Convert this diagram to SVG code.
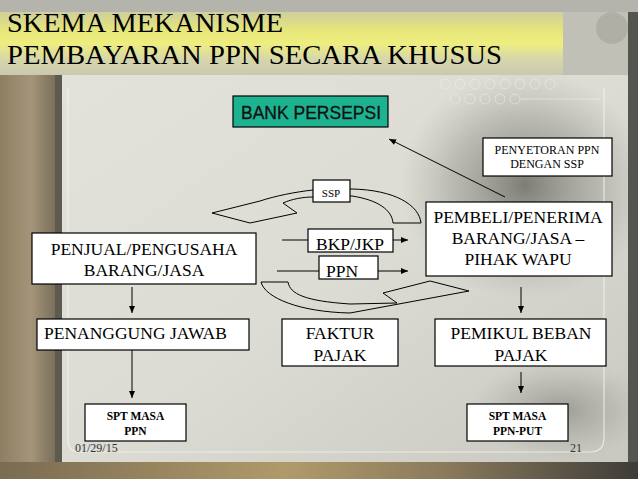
<svg xmlns="http://www.w3.org/2000/svg" width="638" height="479" viewBox="0 0 638 479">
<style>
.box{fill:#ffffff;stroke:#000000;stroke-width:1.2}
.ln{fill:none;stroke:#000000;stroke-width:1}
.t{font-family:"Liberation Serif","Times New Roman",serif;fill:#000000;text-anchor:middle}
.big{font-size:17.5px}
.sm{font-size:12px}
.spt{font-size:11.5px;font-weight:bold}
.title{font-family:"Liberation Serif","Times New Roman",serif;font-size:28px;fill:#000000}
.foot{font-family:"Liberation Serif","Times New Roman",serif;font-size:12px;fill:#333333}
</style>
<defs>
<marker id="ah" markerUnits="userSpaceOnUse" markerWidth="7" markerHeight="6" refX="7" refY="3" orient="auto">
<path d="M0,0 L7,3 L0,6 Z" fill="#000000"/>
</marker>
<linearGradient id="panel" x1="0" y1="0" x2="1" y2="1">
<stop offset="0" stop-color="#e2e2da"/>
<stop offset="0.5" stop-color="#dcdcd4"/>
<stop offset="1" stop-color="#c8c8c0"/>
</linearGradient>
<linearGradient id="titleband" x1="0" y1="0" x2="0" y2="1">
<stop offset="0" stop-color="#cfcf9c"/>
<stop offset="0.3" stop-color="#e6e67a"/>
<stop offset="0.5" stop-color="#eeee80"/>
<stop offset="0.75" stop-color="#d6d6aa"/>
<stop offset="1" stop-color="#c9c9b0"/>
</linearGradient>
<linearGradient id="leftstrip" x1="0" y1="0" x2="1" y2="0">
<stop offset="0" stop-color="#8e7f62"/>
<stop offset="0.5" stop-color="#a4957a"/>
<stop offset="1" stop-color="#6e6452"/>
</linearGradient>
<linearGradient id="bottom" x1="0" y1="0" x2="1" y2="0">
<stop offset="0" stop-color="#7a6c52"/>
<stop offset="0.45" stop-color="#b09a6a"/>
<stop offset="0.7" stop-color="#8a7a5c"/>
<stop offset="1" stop-color="#3e3c38"/>
</linearGradient>
<radialGradient id="dark" cx="0.5" cy="0.5" r="0.5">
<stop offset="0" stop-color="#666660" stop-opacity="0.8"/>
<stop offset="0.6" stop-color="#8a8a82" stop-opacity="0.4"/>
<stop offset="1" stop-color="#a0a098" stop-opacity="0"/>
</radialGradient>
</defs>

<g id="background">
<rect x="0" y="0" width="638" height="479" fill="#bdbdb5"/>
<rect x="0" y="75" width="62" height="404" fill="url(#leftstrip)"/>
<rect x="55" y="75" width="7" height="390" fill="#5e5a50"/>
<rect x="62" y="75" width="566" height="388" fill="url(#panel)"/>
<ellipse cx="525" cy="185" rx="125" ry="115" fill="url(#dark)"/>
<ellipse cx="560" cy="410" rx="90" ry="50" fill="url(#dark)" opacity="0.6"/>
<path d="M68,88 V440 Q68,452 80,452 H590 Q604,452 604,438 V88" fill="none" stroke="#f2f2ee" stroke-width="1.2" opacity="0.8"/>
<rect x="628" y="0" width="10" height="479" fill="#555550"/>
<rect x="0" y="462" width="638" height="17" fill="url(#bottom)"/>
<rect x="0" y="0" width="638" height="12" fill="#b4b4ac"/>
<rect x="0" y="12" width="563" height="63" fill="url(#titleband)"/>
<rect x="563" y="12" width="65" height="63" fill="#c0c0b6"/>
<circle cx="612" cy="28" r="16" fill="#a8a8a0" opacity="0.7"/>
<g fill="none" stroke="#f4f4f0" stroke-width="1" opacity="0.5">
<circle cx="455" cy="99" r="5"/><circle cx="470" cy="99" r="5"/><circle cx="485" cy="99" r="5"/><circle cx="500" cy="99" r="5"/><circle cx="515" cy="99" r="5"/>
<circle cx="445" cy="84" r="5"/><circle cx="460" cy="84" r="5"/><circle cx="475" cy="84" r="5"/><circle cx="490" cy="84" r="5"/><circle cx="505" cy="84" r="5"/><circle cx="520" cy="84" r="5"/><circle cx="535" cy="84" r="5"/><circle cx="550" cy="84" r="5"/>
<path d="M520,99 H600"/>
</g>
</g>

<g id="title">
<text class="title" x="7" y="32" textLength="276" lengthAdjust="spacingAndGlyphs">SKEMA MEKANISME</text>
<text class="title" x="7" y="64" textLength="495" lengthAdjust="spacingAndGlyphs">PEMBAYARAN PPN SECARA KHUSUS</text>
</g>

<g id="connectors">
<path class="ln" d="M505,197 L389,139" marker-end="url(#ah)"/>
<path class="ln" d="M282,240 H308"/>
<path class="ln" d="M393,240 H408" marker-end="url(#ah)"/>
<path class="ln" d="M277,271 H319"/>
<path class="ln" d="M378,271 H408" marker-end="url(#ah)"/>
<path class="ln" d="M132,287 V313" marker-end="url(#ah)"/>
<path class="ln" d="M132,350 V398" marker-end="url(#ah)"/>
<path class="ln" d="M521,287 V313" marker-end="url(#ah)"/>
<path class="ln" d="M521,372 V393" marker-end="url(#ah)"/>
<path id="curve-ssp" class="ln" d="M393,223 L421,223 C419,205 395,190 352,189 L313,190 C295,192 275,196 260,201 L212,213 L250,223 L297,213 L283,203 C292,199 303,197 313,197 L352,196 C378,200 392,210 393,223 Z"/>
<path id="curve-faktur" class="ln" d="M261,282 L288,282 C290,294 305,301 350,304 L397,303 L383,293 L430,281 L469,291 L350,313 C300,312 265,298 261,282 Z"/>
</g>

<g id="bank-persepsi">
<rect x="233" y="96" width="155" height="31" fill="#1db391" stroke="#000000" stroke-width="1.2"/>
<text x="311" y="119" font-family="'Liberation Sans',Arial,sans-serif" font-size="17.5" fill="#111111" stroke="#111111" stroke-width="0.3" text-anchor="middle">BANK PERSEPSI</text>
</g>

<g id="penyetoran">
<rect class="box" x="483" y="138" width="129" height="38"/>
<text class="t sm" x="547" y="154">PENYETORAN PPN</text>
<text class="t sm" x="547" y="168">DENGAN SSP</text>
</g>

<g id="ssp">
<rect class="box" x="313" y="180" width="37" height="22"/>
<text class="t" x="331" y="197" font-size="11">SSP</text>
</g>

<g id="pembeli">
<rect class="box" x="426" y="202" width="186" height="74"/>
<text class="t big" x="518" y="223">PEMBELI/PENERIMA</text>
<text class="t big" x="518" y="244">BARANG/JASA –</text>
<text class="t big" x="518" y="265">PIHAK WAPU</text>
</g>

<g id="penjual">
<rect class="box" x="32" y="233" width="224" height="51"/>
<text class="t big" x="144" y="255">PENJUAL/PENGUSAHA</text>
<text class="t big" x="144" y="276">BARANG/JASA</text>
</g>

<g id="bkp-jkp">
<rect class="box" x="308" y="229" width="85" height="23"/>
<text class="t big" x="350" y="250">BKP/JKP</text>
</g>

<g id="ppn">
<rect class="box" x="319" y="256" width="59" height="23"/>
<text class="t big" x="342" y="277">PPN</text>
</g>

<g id="penanggung-jawab">
<rect class="box" x="37" y="319" width="212" height="31"/>
<text class="t big" x="44" y="339" style="text-anchor:start">PENANGGUNG JAWAB</text>
</g>

<g id="faktur-pajak">
<rect class="box" x="282" y="319" width="116" height="47"/>
<text class="t big" x="340" y="339">FAKTUR</text>
<text class="t big" x="340" y="361">PAJAK</text>
</g>

<g id="pemikul">
<rect class="box" x="435" y="319" width="171" height="47"/>
<text class="t big" x="521" y="339">PEMIKUL BEBAN</text>
<text class="t big" x="521" y="361">PAJAK</text>
</g>

<g id="spt-ppn">
<rect class="box" x="85" y="404" width="101" height="37"/>
<text class="t spt" x="135.5" y="420">SPT MASA</text>
<text class="t spt" x="135.5" y="435">PPN</text>
</g>

<g id="spt-ppn-put">
<rect class="box" x="467" y="404" width="101" height="37"/>
<text class="t spt" x="517.5" y="420">SPT MASA</text>
<text class="t spt" x="517.5" y="435">PPN-PUT</text>
</g>

<g id="footer">
<text class="foot" x="75" y="452">01/29/15</text>
<text class="foot" x="570" y="452">21</text>
</g>
</svg>
